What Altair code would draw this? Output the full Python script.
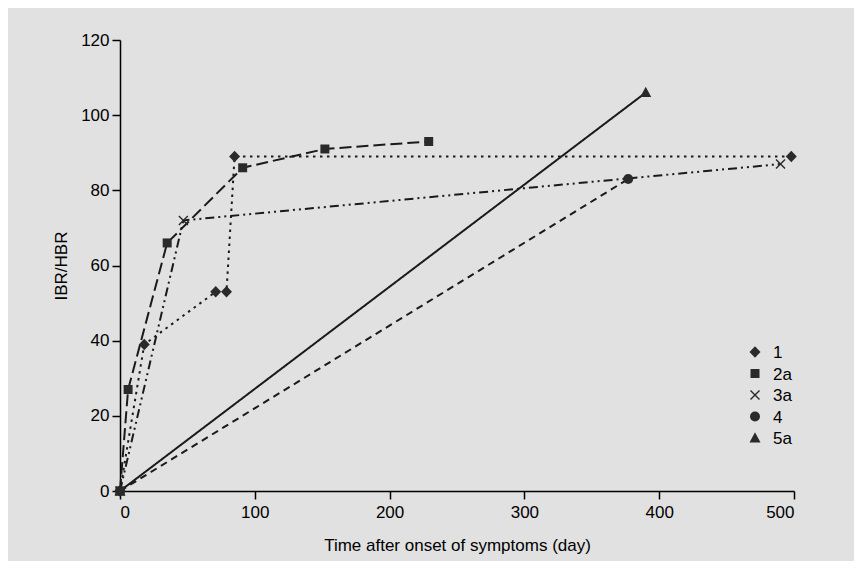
import altair as alt
import pandas as pd

series_names = ["1", "2a", "3a", "4", "5a"]
s1_x = [0, 18, 71, 79, 85, 498]
s1_y = [0, 39, 53, 53, 89, 89]
s2a_x = [0, 6, 35, 91, 152, 229]
s2a_y = [0, 27, 66, 86, 91, 93]
s3a_x = [0, 47, 490]
s3a_y = [0, 72, 87]
s4_x = [0, 377]
s4_y = [0, 83]
s5a_x = [0, 390]
s5a_y = [0, 106]
x_ticks = [0, 100, 200, 300, 400, 500]
y_ticks = [0, 20, 40, 60, 80, 100, 120]

rows = []
for name, xs, ys in zip(series_names,
                        [s1_x, s2a_x, s3a_x, s4_x, s5a_x],
                        [s1_y, s2a_y, s3a_y, s4_y, s5a_y]):
    for i, (xv, yv) in enumerate(zip(xs, ys)):
        rows.append({"series": name, "x": xv, "y": yv, "order": i})
df = pd.DataFrame(rows)
leg_df = pd.DataFrame({"series": series_names})

diamond = "M0,-1.15L1.1,0L0,1.15L-1.1,0Z"
square = "M-0.9,-0.9L0.9,-0.9L0.9,0.9L-0.9,0.9Z"
xmark = "M-1,-0.8L-0.8,-1L0,-0.2L0.8,-1L1,-0.8L0.2,0L1,0.8L0.8,1L0,0.2L-0.8,1L-1,0.8L-0.2,0Z"
triangle = "M0,-1.15L1.1,0.9L-1.1,0.9Z"
shapes = [diamond, square, xmark, "circle", triangle]
dashes = [[2.5, 4.5], [12, 5], [9, 4, 2, 4, 2, 4], [7, 5], [1, 0]]
mark_color = "#2a2a2a"

shape_scale = alt.Scale(domain=series_names, range=shapes)

xenc = alt.X("x:Q", scale=alt.Scale(domain=[0, 500], nice=False),
             axis=alt.Axis(values=x_ticks, title="Time after onset of symptoms (day)",
                           titlePadding=17, labelPadding=5))
yenc = alt.Y("y:Q", scale=alt.Scale(domain=[0, 120], nice=False),
             axis=alt.Axis(values=y_ticks, title="IBR/HBR", titlePadding=10, labelPadding=3))

lines = alt.Chart(df).mark_line(color="#1a1a1a", strokeWidth=2).encode(
    x=xenc, y=yenc,
    strokeDash=alt.StrokeDash("series:N", scale=alt.Scale(domain=series_names, range=dashes), legend=None),
    detail="series:N",
    order="order:Q",
)

points = alt.Chart(df).mark_point(filled=True, size=100, color=mark_color, opacity=1).encode(
    x=xenc, y=yenc,
    shape=alt.Shape("series:N", scale=shape_scale, legend=None),
)

# legend drawn from the series names
leg_y = alt.Y("series:N", scale=alt.Scale(domain=series_names, range=[312, 398], padding=0), axis=None)
legend_pts = alt.Chart(leg_df).mark_point(filled=True, size=100, color=mark_color, opacity=1).encode(
    x=alt.value(635), y=leg_y,
    shape=alt.Shape("series:N", scale=shape_scale, legend=None),
)
legend_txt = alt.Chart(leg_df).mark_text(align="left", baseline="middle", fontSize=17,
                                          font="Liberation Sans", color="black", dy=1).encode(
    x=alt.value(653), y=leg_y, text="series:N",
)

chart = alt.layer(
    alt.layer(lines, points),
    alt.layer(legend_pts, legend_txt),
).resolve_scale(y="independent").properties(
    width=674, height=451,
    autosize=alt.AutoSizeParams(type="none"),
    padding={"left": 112, "top": 32, "right": 60, "bottom": 70},
    background="#e1e1e1",
).configure_view(stroke=None).configure_axis(
    grid=False, domainColor="black", tickColor="black", labelColor="black", titleColor="black",
    labelFont="Liberation Sans", titleFont="Liberation Sans", labelFontSize=17, titleFontSize=17,
    titleFontWeight="normal", tickSize=8, domainWidth=1.5, tickWidth=1.5,
)

chart.save("out.html", embed_options={"renderer": "svg", "actions": False})
